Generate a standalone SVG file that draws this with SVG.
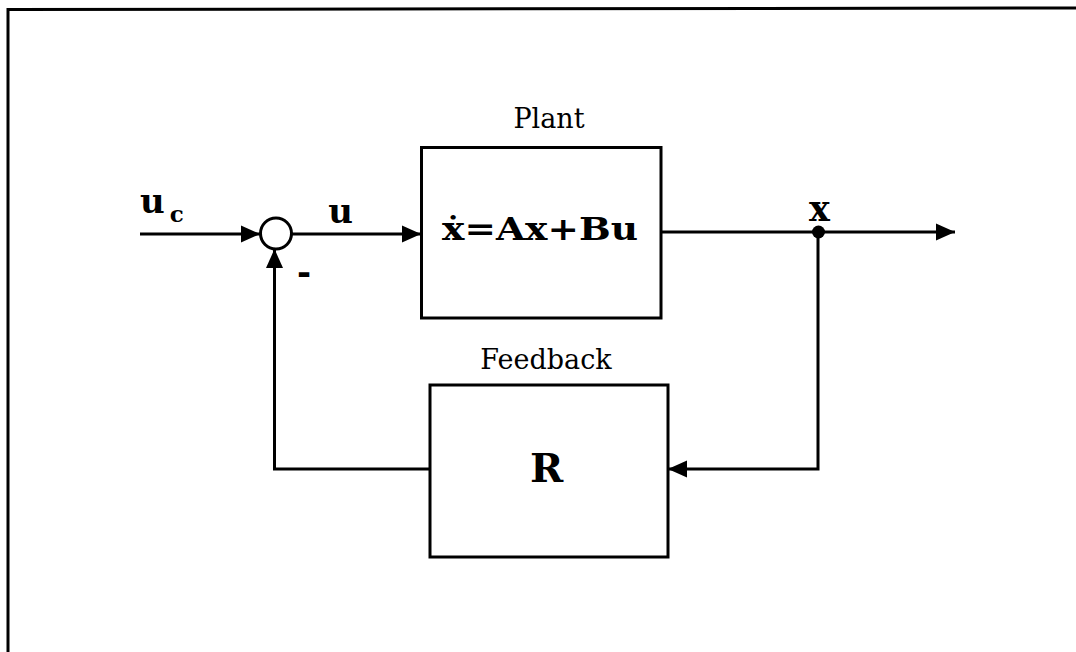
<svg xmlns="http://www.w3.org/2000/svg" width="1076" height="652" viewBox="0 0 1076 652">
  <style>
    .line { fill: none; stroke: #000; stroke-width: 3; stroke-linejoin: miter; }
    .box { fill: #fff; stroke: #000; stroke-width: 3; }
    .title { font-family: "DejaVu Serif", "Liberation Serif", serif; font-size: 27px; fill: #000; }
    .math { font-family: "DejaVu Serif", "Liberation Serif", serif; font-weight: bold; fill: #000; }
  </style>
  <defs>
    <marker id="arrow" markerUnits="userSpaceOnUse" markerWidth="20" markerHeight="18" refX="19" refY="9" orient="auto">
      <path d="M0,0.5 L19,9 L0,17.5 z" fill="#000"/>
    </marker>
  </defs>
  <rect x="0" y="0" width="1076" height="652" fill="#fff"/>
  <g id="frame">
    <path class="line" d="M8,652 L8,9.5 L1076,8"/>
  </g>
  <g id="connectors">
    <path id="c-uc" class="line" d="M140,234 L260,234" marker-end="url(#arrow)"/>
    <path id="c-u" class="line" d="M292,234 L421,234" marker-end="url(#arrow)"/>
    <path id="c-x" class="line" d="M661,232 L955,232" marker-end="url(#arrow)"/>
    <path id="c-fb-in" class="line" d="M818,232 L818,469 L668,469" marker-end="url(#arrow)"/>
    <path id="c-fb-out" class="line" d="M430,469 L274.5,469 L274.5,249" marker-end="url(#arrow)"/>
  </g>
  <g id="sum">
    <circle cx="276" cy="233.5" r="15.5" fill="#fff" stroke="#000" stroke-width="3"/>
    <text x="304" y="284" text-anchor="middle" font-family="DejaVu Sans, sans-serif" font-weight="bold" font-size="34">-</text>
  </g>
  <g id="plant">
    <rect class="box" x="421.5" y="147.5" width="239.5" height="170.5"/>
    <text class="title" x="549" y="128" text-anchor="middle">Plant</text>
    <text class="math" x="442" y="240" font-size="32" textLength="196" lengthAdjust="spacingAndGlyphs">ẋ=Ax+Bu</text>
  </g>
  <g id="feedback">
    <rect class="box" x="430" y="385" width="238" height="172"/>
    <text class="title" x="546" y="369" text-anchor="middle">Feedback</text>
    <text class="math" x="546.5" y="482" font-size="40" text-anchor="middle">R</text>
  </g>
  <g id="junction">
    <circle cx="818.5" cy="232" r="6.5" fill="#000"/>
  </g>
  <g id="labels">
    <text class="math" x="140" y="213" font-size="34">u<tspan font-size="23" dx="5" dy="9">c</tspan></text>
    <text class="math" x="340.5" y="223" font-size="34" text-anchor="middle">u</text>
    <text class="math" x="819.5" y="221" font-size="35" text-anchor="middle">x</text>
  </g>
</svg>
